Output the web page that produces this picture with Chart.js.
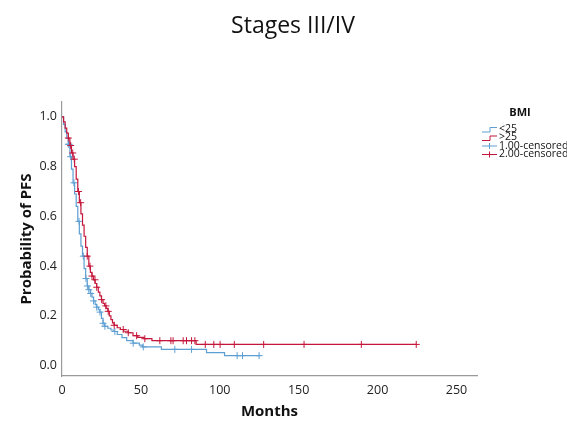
<!DOCTYPE html>
<html>
<head>
<meta charset="utf-8">
<script src="https://cdn.jsdelivr.net/npm/chart.js@4"></script>
<style>
  html, body { margin: 0; padding: 0; background: #fff; }
  #wrap { position: relative; width: 567px; height: 421px; }
  #title { position: absolute; left: 0; top: 8px; width: 586px; text-align: center;
           font: 23px "Open Sans", sans-serif; color: #111; }
</style>
</head>
<body>
<div id="wrap">
  <div id="title">Stages III/IV</div>
  <canvas id="kmChart" width="567" height="421"></canvas>
</div>
<script>
// Kaplan-Meier steps, BMI > 25 (months, survival after the drop)
const gt25Months = [0, 1, 2, 3, 4, 5, 6, 7, 8, 9, 10, 11, 12, 13, 14, 15, 16, 17, 18, 19, 20,
  21, 22, 23, 24, 25, 26, 27, 28, 29, 30, 31, 32, 33, 35, 37, 39, 42, 45, 48, 52, 57, 85, 224.5];
const gt25Surv = [1.0, 0.98, 0.955, 0.935, 0.915, 0.885, 0.855, 0.83, 0.8, 0.75, 0.7, 0.655, 0.61,
  0.565, 0.52, 0.475, 0.44, 0.4, 0.375, 0.36, 0.345, 0.33, 0.315, 0.295, 0.28, 0.265, 0.25, 0.24,
  0.23, 0.218, 0.2, 0.185, 0.172, 0.162, 0.152, 0.145, 0.138, 0.132, 0.12, 0.113, 0.108, 0.1, 0.085, 0.085];
const gt25Censored = [4, 5.5, 6.8, 7.8, 10.4, 11.8, 16, 17.7, 19, 20.9, 22, 25.1, 27.8, 29.3, 33.1,
  38.8, 42, 47.3, 52.5, 62, 69, 70.4, 76.8, 78.9, 82.1, 84.2, 90.8, 96.2, 100.2, 109.2, 127.8,
  153.4, 189.7, 224.5];

// Kaplan-Meier steps, BMI < 25
const lt25Months = [0, 1, 2, 3, 4, 5, 6, 7, 8, 9, 10, 11, 12, 13, 14, 15, 16, 17, 18, 19, 20, 21,
  22, 23, 24, 25, 26, 27, 29, 31, 33, 35, 38, 41, 45, 49, 51, 63, 91.6, 103, 125.8];
const lt25Surv = [1.0, 0.97, 0.94, 0.915, 0.89, 0.84, 0.79, 0.735, 0.69, 0.64, 0.58, 0.53, 0.48,
  0.44, 0.39, 0.35, 0.32, 0.305, 0.29, 0.275, 0.26, 0.245, 0.235, 0.225, 0.215, 0.19, 0.17, 0.158,
  0.15, 0.143, 0.137, 0.125, 0.112, 0.1, 0.09, 0.082, 0.075, 0.065, 0.052, 0.04, 0.04];
const lt25Censored = [4, 4.6, 5.5, 7.6, 10.8, 13.5, 15.2, 16.1, 17, 18.2, 20, 22, 24.1, 26, 27.2,
  33.5, 45.1, 51.5, 71.5, 82.1, 111, 114.4, 124.9];

const xTicks = [0, 50, 100, 150, 200, 250];
const yTicks = [0, 0.2, 0.4, 0.6, 0.8, 1.0];

const blue = "#5e9fd3";
const red = "#c4173b";

function stepPoints(months, surv) {
  return months.map((m, i) => ({ x: m, y: surv[i] }));
}

function survAt(months, surv, t) {
  let v = surv[0];
  for (let i = 0; i < months.length; i++) {
    if (months[i] <= t) v = surv[i];
  }
  return v;
}

function censorPoints(times, months, surv) {
  return times.map(t => ({ x: t, y: survAt(months, surv, t) }));
}

// BMI legend with step and cross symbols
const bmiLegend = {
  id: "bmiLegend",
  afterDraw(chart) {
    const ctx = chart.ctx;
    ctx.save();
    ctx.fillStyle = "#111";
    ctx.font = "bold 11px 'Open Sans', sans-serif";
    ctx.textAlign = "center";
    ctx.textBaseline = "middle";
    ctx.fillText("BMI", 520, 113);

    ctx.font = "10.5px 'Open Sans', sans-serif";
    ctx.textAlign = "left";
    ctx.lineWidth = 1;
    const rows = [
      { y: 129, color: blue, label: "<25", kind: "step" },
      { y: 137.5, color: red, label: ">25", kind: "step" },
      { y: 146, color: blue, label: "1.00-censored", kind: "cross" },
      { y: 154.5, color: red, label: "2.00-censored", kind: "cross" }
    ];
    rows.forEach(r => {
      ctx.strokeStyle = r.color;
      ctx.beginPath();
      if (r.kind === "step") {
        ctx.moveTo(482, r.y + 3);
        ctx.lineTo(490, r.y + 3);
        ctx.lineTo(490, r.y - 1.5);
        ctx.lineTo(497, r.y - 1.5);
      } else {
        ctx.moveTo(482, r.y);
        ctx.lineTo(497, r.y);
        ctx.moveTo(489.5, r.y - 3);
        ctx.lineTo(489.5, r.y + 3);
      }
      ctx.stroke();
      ctx.fillStyle = "#111";
      ctx.fillText(r.label, 499, r.y);
    });
    ctx.restore();
  }
};

new Chart(document.getElementById("kmChart"), {
  type: "scatter",
  data: {
    datasets: [
      {
        label: ">25",
        data: stepPoints(gt25Months, gt25Surv),
        showLine: true,
        stepped: true,
        borderColor: red,
        borderWidth: 1.2,
        pointRadius: 0
      },
      {
        label: "2.00-censored",
        data: censorPoints(gt25Censored, gt25Months, gt25Surv),
        showLine: false,
        pointStyle: "cross",
        pointRadius: 3.5,
        borderColor: red,
        borderWidth: 1
      },
      {
        label: "<25",
        data: stepPoints(lt25Months, lt25Surv),
        showLine: true,
        stepped: true,
        borderColor: blue,
        borderWidth: 1.2,
        pointRadius: 0
      },
      {
        label: "1.00-censored",
        data: censorPoints(lt25Censored, lt25Months, lt25Surv),
        showLine: false,
        pointStyle: "cross",
        pointRadius: 3.5,
        borderColor: blue,
        borderWidth: 1
      }
    ]
  },
  options: {
    responsive: false,
    animation: false,
    layout: { padding: { left: 14, right: 90, top: 102, bottom: 0 } },
    plugins: {
      legend: { display: false },
      tooltip: { enabled: false }
    },
    scales: {
      x: {
        type: "linear",
        min: 0,
        max: 263,
        afterBuildTicks: s => { s.ticks = xTicks.map(v => ({ value: v })); },
        afterFit: s => { s.height = 45; },
        grid: { display: false, drawTicks: false },
        border: { display: true, color: "#9a9a9a", width: 1.2 },
        ticks: { color: "#222", padding: 7, font: { family: "'Open Sans', sans-serif", size: 12.5 } },
        title: {
          display: true,
          text: "Months",
          color: "#111",
          padding: { top: 0, bottom: 0 },
          font: { family: "'Open Sans', sans-serif", size: 15, weight: "bold" }
        }
      },
      y: {
        type: "linear",
        min: -0.042,
        max: 1.06,
        afterBuildTicks: s => { s.ticks = yTicks.map(v => ({ value: v })); },
        afterFit: s => { s.width = 48; },
        grid: { display: false, drawTicks: false },
        border: { display: true, color: "#9a9a9a", width: 1.2 },
        ticks: {
          color: "#222",
          padding: 5,
          font: { family: "'Open Sans', sans-serif", size: 12.5 },
          callback: v => v.toFixed(1)
        },
        title: {
          display: true,
          text: "Probability of PFS",
          color: "#111",
          padding: { top: 4, bottom: 0 },
          font: { family: "'Open Sans', sans-serif", size: 15, weight: "bold" }
        }
      }
    }
  },
  plugins: [bmiLegend]
});
</script>
</body>
</html>
